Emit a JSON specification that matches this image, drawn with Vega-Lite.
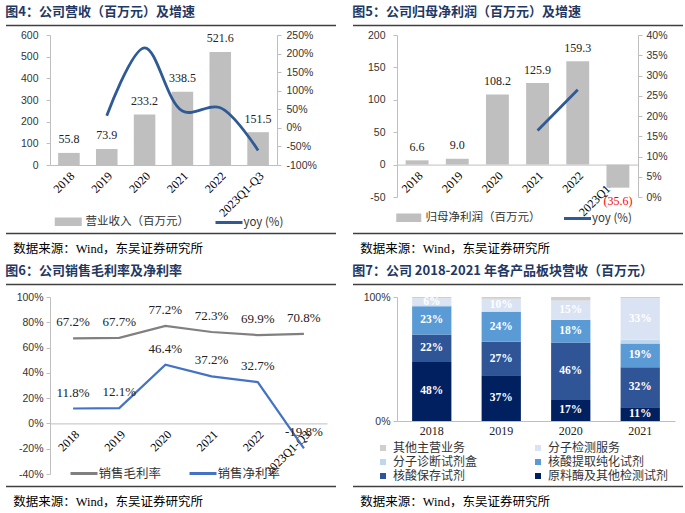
{
  "$schema": "https://vega.github.io/schema/vega-lite/v6.json",
  "background": "white",
  "padding": {"left": 5, "top": 5, "right": 0, "bottom": 0},
  "config": {
    "view": {"stroke": null},
    "locale": {"number": {"decimal": ".", "thousands": ",", "grouping": [3], "currency": ["", ""], "minus": "-"}},
    "axis": {"grid": false, "domainColor": "#BFBFBF", "domainWidth": 1, "tickColor": "#BFBFBF", "tickSize": 4, "labelColor": "#333333", "labelFont": "Liberation Sans", "labelFontSize": 10.5},
    "legend": {"labelFont": "Noto Sans CJK SC", "labelColor": "#333333"},
    "title": {"font": "Noto Sans CJK SC", "fontSize": 13, "fontWeight": "bold", "color": "#1F3864", "anchor": "start"}
  },
  "datasets": {
    "rule": [{"from": 0, "to": 1}],
    "products": [
      {"product": "原料酶及其他检测试剂", "seq": 1},
      {"product": "核酸保存试剂", "seq": 2},
      {"product": "核酸提取纯化试剂", "seq": 3},
      {"product": "分子诊断试剂盒", "seq": 4},
      {"product": "分子检测服务", "seq": 5},
      {"product": "其他主营业务", "seq": 6}
    ]
  },
  "spacing": 8,
  "resolve": {"scale": {"fill": "independent", "stroke": "independent", "color": "independent", "x": "independent", "y": "independent"}, "legend": {"fill": "independent", "stroke": "independent", "color": "independent"}},
  "vconcat": [
    {
      "resolve": {"scale": {"fill": "independent", "stroke": "independent", "color": "independent", "x": "independent", "y": "independent"}, "legend": {"fill": "independent", "stroke": "independent", "color": "independent"}},
      "concat": [
        {"width": 286, "height": 1, "data": {"name": "rule"}, "mark": {"type": "rule", "color": "#404040", "strokeWidth": 1.5},
         "encoding": {"x": {"field": "from", "type": "quantitative", "scale": {"domain": [0, 1], "range": [-44, 286]}, "axis": null}, "x2": {"field": "to"}},
         "title": {"text": "图4：公司营收（百万元）及增速", "orient": "top", "anchor": "start", "offset": 6}},
        {"width": 286, "height": 1, "data": {"name": "rule"}, "mark": {"type": "rule", "color": "#404040", "strokeWidth": 1.5},
         "encoding": {"x": {"field": "from", "type": "quantitative", "scale": {"domain": [0, 1], "range": [-44, 286]}, "axis": null}, "x2": {"field": "to"}},
         "title": {"text": "图5：公司归母净利润（百万元）及增速", "orient": "top", "anchor": "start", "offset": 6}},
        {
          "width": 227, "height": 130,
          "data": {"values": [
            {"period": "2018", "revenue": 55.8, "yoy": null},
            {"period": "2019", "revenue": 73.9, "yoy": 0.324},
            {"period": "2020", "revenue": 233.2, "yoy": 2.156},
            {"period": "2021", "revenue": 338.5, "yoy": 0.452},
            {"period": "2022", "revenue": 521.6, "yoy": 0.541},
            {"period": "2023Q1-Q3", "revenue": 151.5, "yoy": -0.61}
          ]},
          "encoding": {"x": {"field": "period", "type": "ordinal", "sort": null,
            "scale": {"paddingInner": 0.43, "paddingOuter": 0.215},
            "axis": {"title": null, "labelAngle": -45, "ticks": false, "labelFont": "Liberation Serif", "labelFontSize": 12, "labelColor": "#000000", "labelPadding": 5, "labelOverlap": false}}},
          "layer": [
            {
              "encoding": {"y": {"field": "revenue", "type": "quantitative", "scale": {"domain": [0, 600]},
                "axis": {"title": null, "values": [0, 100, 200, 300, 400, 500, 600], "labelPadding": 8, "minExtent": 44, "maxExtent": 44}}},
              "layer": [
                {"mark": {"type": "bar"},
                 "encoding": {"fill": {"datum": "营业收入（百万元）", "type": "nominal", "scale": {"range": ["#BFBFBF"]},
                   "legend": {"title": null, "orient": "none", "legendX": 12.5, "legendY": 181, "symbolType": "M-2.7,-0.85L2.7,-0.85L2.7,0.85L-2.7,0.85Z", "symbolSize": 100, "symbolStrokeWidth": 0, "labelOffset": 11.5, "labelFontSize": 11.5}}}},
                {"mark": {"type": "text", "font": "Liberation Serif", "fontSize": 12, "baseline": "middle", "dy": -13.5, "color": "#222222"},
                 "encoding": {"text": {"field": "revenue", "type": "quantitative", "format": ".1f"}}}
              ]
            },
            {"mark": {"type": "line", "interpolate": "catmull-rom", "strokeWidth": 2.8},
             "encoding": {
               "y": {"field": "yoy", "type": "quantitative", "scale": {"domain": [-1, 2.5]},
                 "axis": {"orient": "right", "title": null, "values": [-1, -0.5, 0, 0.5, 1, 1.5, 2, 2.5], "format": ".0%", "labelPadding": 5}},
               "stroke": {"datum": "yoy (%)", "type": "nominal", "scale": {"range": ["#2F5A96"]},
                 "legend": {"title": null, "orient": "none", "legendX": 172.5, "legendY": 181, "symbolType": "M-2.7,0L2.7,0", "symbolSize": 100, "symbolStrokeWidth": 3, "labelOffset": 8, "labelFontSize": 11.5}}
             }}
          ],
          "resolve": {"scale": {"y": "independent"}}
        },
        {
          "width": 241, "height": 162,
          "data": {"values": [
            {"period": "2018", "profit": 6.6},
            {"period": "2019", "profit": 9.0},
            {"period": "2020", "profit": 108.2},
            {"period": "2021", "profit": 125.9, "yoy": 0.164},
            {"period": "2022", "profit": 159.3, "yoy": 0.265},
            {"period": "2023Q1-Q3", "profit": -35.6}
          ]},
          "encoding": {"x": {"field": "period", "type": "ordinal", "sort": null,
            "scale": {"paddingInner": 0.43, "paddingOuter": 0.215},
            "axis": {"title": null, "labelAngle": -45, "ticks": false, "labelFont": "Liberation Serif", "labelFontSize": 12, "labelColor": "#000000", "labelPadding": 5, "labelOverlap": false, "offset": -32.4}}},
          "layer": [
            {
              "encoding": {"y": {"field": "profit", "type": "quantitative", "scale": {"domain": [-50, 200]},
                "axis": {"title": null, "values": [-50, 0, 50, 100, 150, 200], "labelPadding": 8, "minExtent": 44, "maxExtent": 44}}},
              "layer": [
                {"mark": {"type": "bar"},
                 "encoding": {"fill": {"datum": "归母净利润（百万元）", "type": "nominal", "scale": {"range": ["#BFBFBF"]},
                   "legend": {"title": null, "orient": "none", "legendX": 6, "legendY": 177, "symbolType": "M-2.5,-0.85L2.5,-0.85L2.5,0.85L-2.5,0.85Z", "symbolSize": 100, "symbolStrokeWidth": 0, "labelOffset": 11, "labelFontSize": 11.5}}}},
                {"transform": [{"filter": "datum.profit >= 0"}],
                 "mark": {"type": "text", "font": "Liberation Serif", "fontSize": 12, "baseline": "middle", "dy": -13.5, "color": "#222222"},
                 "encoding": {"text": {"field": "profit", "type": "quantitative", "format": ".1f"}}},
                {"transform": [{"filter": "datum.profit < 0"}],
                 "mark": {"type": "text", "font": "Liberation Serif", "fontSize": 12, "baseline": "middle", "dy": 13, "color": "#FF0000"},
                 "encoding": {"text": {"field": "profit", "type": "quantitative", "format": "(.1f"}}}
              ]
            },
            {"mark": {"type": "line", "strokeWidth": 2.8},
             "encoding": {
               "y": {"field": "yoy", "type": "quantitative", "scale": {"domain": [0, 0.4]},
                 "axis": {"orient": "right", "title": null, "values": [0, 0.05, 0.1, 0.15, 0.2, 0.25, 0.3, 0.35, 0.4], "format": ".0%", "labelPadding": 4}},
               "stroke": {"datum": "yoy (%)", "type": "nominal", "scale": {"range": ["#2F5A96"]},
                 "legend": {"title": null, "orient": "none", "legendX": 174, "legendY": 177, "symbolType": "M-2.7,0L2.7,0", "symbolSize": 100, "symbolStrokeWidth": 3, "labelOffset": 8, "labelFontSize": 11.5}}
             }}
          ],
          "resolve": {"scale": {"y": "independent"}}
        },
        {"width": 286, "height": 1, "data": {"name": "rule"}, "mark": {"type": "rule", "color": "#404040", "strokeWidth": 1.5},
         "encoding": {"x": {"field": "from", "type": "quantitative", "scale": {"domain": [0, 1], "range": [-44, 286]}, "axis": null}, "x2": {"field": "to"}},
         "title": {"text": "数据来源：Wind，东吴证券研究所", "orient": "bottom", "anchor": "start", "offset": 9, "dx": 8, "font": "Liberation Serif, Noto Sans CJK SC", "fontSize": 12.5, "fontWeight": "normal", "color": "#000000"}},
        {"width": 286, "height": 1, "data": {"name": "rule"}, "mark": {"type": "rule", "color": "#404040", "strokeWidth": 1.5},
         "encoding": {"x": {"field": "from", "type": "quantitative", "scale": {"domain": [0, 1], "range": [-44, 286]}, "axis": null}, "x2": {"field": "to"}},
         "title": {"text": "数据来源：Wind，东吴证券研究所", "orient": "bottom", "anchor": "start", "offset": 9, "dx": 8, "font": "Liberation Serif, Noto Sans CJK SC", "fontSize": 12.5, "fontWeight": "normal", "color": "#000000"}}
      ],
      "columns": 2, "align": "each", "spacing": {"row": 3, "column": 15}
    },
    {
      "resolve": {"scale": {"fill": "independent", "stroke": "independent", "color": "independent", "x": "independent", "y": "independent"}, "legend": {"fill": "independent", "stroke": "independent", "color": "independent"}},
      "concat": [
        {"width": 286, "height": 1, "data": {"name": "rule"}, "mark": {"type": "rule", "color": "#404040", "strokeWidth": 1.5},
         "encoding": {"x": {"field": "from", "type": "quantitative", "scale": {"domain": [0, 1], "range": [-44, 286]}, "axis": null}, "x2": {"field": "to"}},
         "title": {"text": "图6：公司销售毛利率及净利率", "orient": "top", "anchor": "start", "offset": 6}},
        {"width": 286, "height": 1, "data": {"name": "rule"}, "mark": {"type": "rule", "color": "#404040", "strokeWidth": 1.5},
         "encoding": {"x": {"field": "from", "type": "quantitative", "scale": {"domain": [0, 1], "range": [-44, 286]}, "axis": null}, "x2": {"field": "to"}},
         "title": {"text": "图7：公司 2018-2021 年各产品板块营收（百万元）", "orient": "top", "anchor": "start", "offset": 6}},
        {
          "width": 277, "height": 177,
          "data": {"values": [
            {"period": "2018", "metric": "销售毛利率", "rate": 0.672},
            {"period": "2019", "metric": "销售毛利率", "rate": 0.677},
            {"period": "2020", "metric": "销售毛利率", "rate": 0.772},
            {"period": "2021", "metric": "销售毛利率", "rate": 0.723},
            {"period": "2022", "metric": "销售毛利率", "rate": 0.699},
            {"period": "2023Q1-Q3", "metric": "销售毛利率", "rate": 0.708},
            {"period": "2018", "metric": "销售净利率", "rate": 0.118},
            {"period": "2019", "metric": "销售净利率", "rate": 0.121},
            {"period": "2020", "metric": "销售净利率", "rate": 0.464},
            {"period": "2021", "metric": "销售净利率", "rate": 0.372},
            {"period": "2022", "metric": "销售净利率", "rate": 0.327},
            {"period": "2023Q1-Q3", "metric": "销售净利率", "rate": -0.198}
          ]},
          "encoding": {"y": {"field": "rate", "type": "quantitative", "scale": {"domain": [-0.4, 1]},
            "axis": {"title": null, "values": [-0.4, -0.2, 0, 0.2, 0.4, 0.6, 0.8, 1], "format": ".0%", "labelPadding": 3, "minExtent": 44, "maxExtent": 44}}},
          "layer": [
            {"mark": {"type": "line", "strokeWidth": 2.2},
             "encoding": {
               "x": {"field": "period", "type": "ordinal", "sort": null,
                 "axis": {"title": null, "labelAngle": -45, "ticks": false, "labelFont": "Liberation Serif", "labelFontSize": 12, "labelColor": "#000000", "labelPadding": 5, "labelOverlap": false, "offset": -50.6}},
               "stroke": {"field": "metric", "type": "nominal", "scale": {"domain": ["销售毛利率", "销售净利率"], "range": ["#808080", "#4472C4"]},
                 "legend": {"title": null, "orient": "none", "direction": "horizontal", "legendX": 27.5, "legendY": 170, "symbolType": "M-2.7,0L2.7,0", "symbolSize": 100, "symbolStrokeWidth": 3, "labelOffset": 8, "columnPadding": 22, "labelFontSize": 12.5}}
             }},
            {"mark": {"type": "text", "font": "Liberation Serif", "fontSize": 13, "baseline": "middle", "dy": -16, "color": "#222222"},
             "encoding": {
               "x": {"field": "period", "type": "ordinal", "sort": null,
                 "axis": {"orient": "top", "title": null, "labels": false, "ticks": false, "domain": true, "domainOpacity": 0, "minExtent": 8, "maxExtent": 8}},
               "text": {"field": "rate", "type": "quantitative", "format": ".1%"}
             }}
          ],
          "resolve": {"axis": {"x": "independent"}}
        },
        {
          "width": 278, "height": 124,
          "data": {"values": [
            {"year": "2018", "product": "原料酶及其他检测试剂", "share": 0.476},
            {"year": "2018", "product": "核酸保存试剂", "share": 0.221},
            {"year": "2018", "product": "核酸提取纯化试剂", "share": 0.228},
            {"year": "2018", "product": "分子诊断试剂盒", "share": 0.008},
            {"year": "2018", "product": "分子检测服务", "share": 0.056},
            {"year": "2018", "product": "其他主营业务", "share": 0.011},
            {"year": "2019", "product": "原料酶及其他检测试剂", "share": 0.368},
            {"year": "2019", "product": "核酸保存试剂", "share": 0.272},
            {"year": "2019", "product": "核酸提取纯化试剂", "share": 0.240},
            {"year": "2019", "product": "分子诊断试剂盒", "share": 0.005},
            {"year": "2019", "product": "分子检测服务", "share": 0.100},
            {"year": "2019", "product": "其他主营业务", "share": 0.015},
            {"year": "2020", "product": "原料酶及其他检测试剂", "share": 0.170},
            {"year": "2020", "product": "核酸保存试剂", "share": 0.463},
            {"year": "2020", "product": "核酸提取纯化试剂", "share": 0.182},
            {"year": "2020", "product": "分子诊断试剂盒", "share": 0.004},
            {"year": "2020", "product": "分子检测服务", "share": 0.153},
            {"year": "2020", "product": "其他主营业务", "share": 0.028},
            {"year": "2021", "product": "原料酶及其他检测试剂", "share": 0.110},
            {"year": "2021", "product": "核酸保存试剂", "share": 0.323},
            {"year": "2021", "product": "核酸提取纯化试剂", "share": 0.192},
            {"year": "2021", "product": "分子诊断试剂盒", "share": 0.030},
            {"year": "2021", "product": "分子检测服务", "share": 0.334},
            {"year": "2021", "product": "其他主营业务", "share": 0.011}
          ]},
          "transform": [{"lookup": "product", "from": {"data": {"name": "products"}, "key": "product", "fields": ["seq"]}}],
          "encoding": {
            "y": {"field": "share", "type": "quantitative", "stack": "normalize",
              "axis": {"title": null, "values": [0, 1], "format": ".0%", "labelPadding": 3, "minExtent": 44, "maxExtent": 44}},
            "order": {"field": "seq", "type": "quantitative", "sort": "ascending"}
          },
          "layer": [
            {"mark": {"type": "bar"},
             "encoding": {
               "x": {"field": "year", "type": "ordinal", "scale": {"paddingInner": 0.435, "paddingOuter": 0.2175},
                 "axis": {"title": null, "labelAngle": 0, "ticks": false, "labelPadding": 4, "labelFont": "Liberation Serif", "labelFontSize": 12, "labelColor": "#222222"}},
               "color": {"field": "product", "type": "nominal",
                 "scale": {"domain": ["其他主营业务", "分子检测服务", "分子诊断试剂盒", "核酸提取纯化试剂", "核酸保存试剂", "原料酶及其他检测试剂"],
                           "range": ["#D0CECE", "#DAE3F3", "#BDD7EE", "#5B9BD5", "#2F5597", "#002060"]},
                 "legend": {"title": null, "orient": "none", "direction": "horizontal", "legendX": -20, "legendY": 145, "columns": 2, "symbolType": "square", "symbolSize": 36, "symbolStrokeWidth": 0, "labelOffset": 4, "labelFontSize": 12, "rowPadding": 2, "columnPadding": 54}}
             }},
            {"mark": {"type": "text", "font": "Liberation Serif", "fontSize": 11.5, "fontWeight": "bold", "color": "#FFFFFF"},
             "encoding": {
               "x": {"field": "year", "type": "ordinal",
                 "axis": {"orient": "top", "title": null, "labels": false, "ticks": false, "domain": true, "domainOpacity": 0, "minExtent": 8, "maxExtent": 8}},
               "y": {"field": "share", "type": "quantitative", "stack": "normalize", "bandPosition": 0.5},
               "detail": {"field": "product", "type": "nominal"},
               "text": {"field": "share", "type": "quantitative", "format": ".0%"},
               "opacity": {"condition": {"test": "datum.share < 0.05", "value": 0}, "value": 1}
             }}
          ],
          "resolve": {"axis": {"x": "independent"}}
        },
        {"width": 286, "height": 1, "data": {"name": "rule"}, "mark": {"type": "rule", "color": "#404040", "strokeWidth": 1.5},
         "encoding": {"x": {"field": "from", "type": "quantitative", "scale": {"domain": [0, 1], "range": [-44, 286]}, "axis": null}, "x2": {"field": "to"}},
         "title": {"text": "数据来源：Wind，东吴证券研究所", "orient": "bottom", "anchor": "start", "offset": 9, "dx": 8, "font": "Liberation Serif, Noto Sans CJK SC", "fontSize": 12.5, "fontWeight": "normal", "color": "#000000"}},
        {"width": 286, "height": 1, "data": {"name": "rule"}, "mark": {"type": "rule", "color": "#404040", "strokeWidth": 1.5},
         "encoding": {"x": {"field": "from", "type": "quantitative", "scale": {"domain": [0, 1], "range": [-44, 286]}, "axis": null}, "x2": {"field": "to"}},
         "title": {"text": "数据来源：Wind，东吴证券研究所", "orient": "bottom", "anchor": "start", "offset": 9, "dx": 8, "font": "Liberation Serif, Noto Sans CJK SC", "fontSize": 12.5, "fontWeight": "normal", "color": "#000000"}}
      ],
      "columns": 2, "align": "each", "spacing": {"row": 3, "column": 15}
    }
  ]
}
